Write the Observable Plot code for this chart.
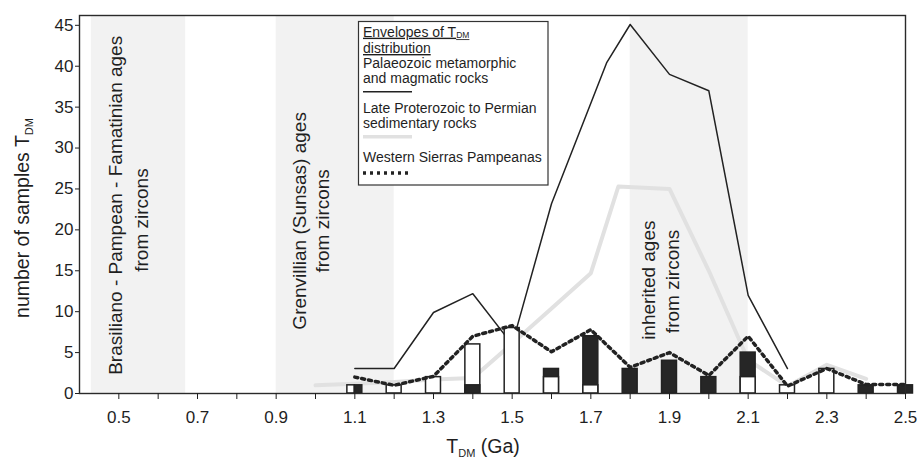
<!DOCTYPE html>
<html><head><meta charset="utf-8">
<script src="https://cdn.jsdelivr.net/npm/d3@7"></script>
<script src="https://cdn.jsdelivr.net/npm/@observablehq/plot@0.6"></script>
<style>
body{margin:0;background:#fff;}
#chart{position:relative;width:917px;height:459px;}
</style></head><body><div id="chart"></div>
<script>
// ---- data ----
const binAges     = [1.1,1.2,1.3,1.4,1.5,1.6,1.7,1.8,1.9,2.0,2.1,2.2,2.3,2.4,2.5];
const whiteCounts = [1,1,2,6,8,2,1,0,0,0,2,1,3,0,0];
const blackCounts = [1,0,0,1,0,3,7,3,4,2,5,0,0,1,1];

const palaeoAges   = [1.1,1.2,1.3,1.4,1.5,1.6,1.74,1.8,1.9,2.0,2.1,2.2];
const palaeoCounts = [3.05,3.05,9.9,12.2,6.0,23.2,40.4,45.1,39.0,37.0,12.0,3.05];

const sedAges   = [1.0,1.1,1.2,1.3,1.4,1.5,1.6,1.7,1.77,1.9,2.0,2.1,2.2,2.3,2.4];
const sedCounts = [1.0,1.2,1.4,1.7,1.9,6.1,10.4,14.7,25.3,25.0,15.0,4.1,0.9,3.5,1.8];

const wspAges   = [1.1,1.2,1.3,1.4,1.5,1.6,1.7,1.8,1.9,2.0,2.1,2.2,2.3,2.4,2.5];
const wspCounts = [2.0,1.0,2.1,7.0,8.3,5.1,7.8,3.2,5.0,2.2,7.0,0.9,3.05,1.1,1.1];

const bandStart = [0.43,0.9,1.8];
const bandEnd   = [0.67,1.2,2.1];
const bandLabelLines = ["Brasiliano - Pampean - Famatinian ages","from zircons",
                        "Grenvillian (Sunsas) ages","from zircons",
                        "inherited ages","from zircons"];

const yTicks = [0,5,10,15,20,25,30,35,40,45];
const xTicks = [0.5,0.6,0.7,0.8,0.9,1.0,1.1,1.2,1.3,1.4,1.5,1.6,1.7,1.8,1.9,2.0,2.1,2.2,2.3,2.4,2.5];
const xTickLabels = [0.5,0.7,0.9,1.1,1.3,1.5,1.7,1.9,2.1,2.3,2.5];

// ---- derived tables ----
const zip = (xs, ys) => xs.map((x,i)=>({x, y: ys[i]}));
const halfW = 0.019;
const BLACK = "#262626", WHITE = "#ffffff";
const bars = [];
binAges.forEach((a,i)=>{
  const w = whiteCounts[i], b = blackCounts[i];
  if (w > 0 && w === b) {
    bars.push({x1:a-halfW, x2:a, v:w, fill:WHITE});
    bars.push({x1:a, x2:a+halfW, v:b, fill:BLACK});
  } else {
    const order = w >= b ? [[w,WHITE],[b,BLACK]] : [[b,BLACK],[w,WHITE]];
    order.forEach(([v,f])=>{ if (v>0) bars.push({x1:a-halfW, x2:a+halfW, v, fill:f}); });
  }
});
const bands = bandStart.map((s,i)=>({x1:s, x2:bandEnd[i]}));
// annotation anchors (data units) for the rotated band texts
const labelAnchorX = [0.4915,0.5576,0.9594,1.018,1.8467,1.9077];
const labelAnchorY = [23.0,21.2,21.1,21.1,13.85,13.7];
const labels = bandLabelLines.map((t,i)=>({t, x:labelAnchorX[i], y:labelAnchorY[i]}));

const FONT = "'Liberation Sans', Arial, Helvetica, sans-serif";
const YTOP = 46.2;

const svgEl = Plot.plot({
  width: 917, height: 459,
  marginLeft: 79, marginRight: 12, marginTop: 15, marginBottom: 66,
  x: {domain: [0.4, 2.5]},
  y: {domain: [0, YTOP]},
  color: {type: "identity"},
  style: {fontFamily: FONT, color: "#1f1f1f", background: "#fff"},
  marks: [
    Plot.rect(bands, {x1:"x1", x2:"x2", y1:0, y2:YTOP, fill:"#f2f2f2"}),
    Plot.text(labels, {x:"x", y:"y", text:"t", rotate:-90, fontSize:19, textAnchor:"middle", lineAnchor:"middle", fill:"#1f1f1f"}),
    Plot.line(zip(sedAges, sedCounts), {x:"x", y:"y", stroke:"#e1e1e1", strokeWidth:4}),
    Plot.line(zip(palaeoAges, palaeoCounts), {x:"x", y:"y", stroke:"#222", strokeWidth:1.5}),
    Plot.rect(bars, {x1:"x1", x2:"x2", y1:0, y2:"v", fill:"fill", stroke:"#222", strokeWidth:1.5}),
    Plot.line(zip(wspAges, wspCounts), {x:"x", y:"y", stroke:"#222", strokeWidth:3.5, strokeDasharray:"3,4"}),
    Plot.frame({stroke:"#2a2a2a", strokeWidth:1.4}),
    Plot.axisY({ticks:yTicks, tickSize:4, tickPadding:2, fontSize:17, label:null}),
    Plot.axisX({ticks:xTicks, tickSize:6, tickPadding:11, fontSize:17, label:null,
      tickFormat: d => xTickLabels.includes(d) ? d.toFixed(1) : ""})
  ]
});
document.getElementById("chart").appendChild(svgEl);

const svg = d3.select(svgEl);
// axis titles with subscripts
const yt = svg.append("text").attr("transform","translate(29,218) rotate(-90)")
  .attr("text-anchor","middle").attr("font-family",FONT).attr("font-size",19.5).attr("fill","#1f1f1f");
yt.append("tspan").text("number of samples T");
yt.append("tspan").attr("font-size",11).attr("dy",4).text("DM");

const xt = svg.append("text").attr("x",483).attr("y",453)
  .attr("text-anchor","middle").attr("font-family",FONT).attr("font-size",19.5).attr("fill","#1f1f1f");
xt.append("tspan").text("T");
xt.append("tspan").attr("font-size",11).attr("dy",4).text("DM");
xt.append("tspan").attr("dy",-4).text(" (Ga)");

// legend box
const lg = svg.append("g").attr("font-family",FONT).attr("font-size",14).attr("fill","#1f1f1f").attr("text-anchor","start");
lg.append("rect").attr("x",358.5).attr("y",21.5).attr("width",189.5).attr("height",163.5)
  .attr("fill","#fff").attr("stroke","#333").attr("stroke-width",1.2);
const t1 = lg.append("text").attr("x",363).attr("y",36.7).attr("text-decoration","underline");
t1.append("tspan").text("Envelopes of T");
t1.append("tspan").attr("font-size",8.5).attr("dy",1.5).text("DM");
lg.append("text").attr("x",363).attr("y",53).attr("text-decoration","underline").text("distribution");
lg.append("text").attr("x",363).attr("y",68).text("Palaeozoic metamorphic");
lg.append("text").attr("x",363).attr("y",83).text("and magmatic rocks");
lg.append("line").attr("x1",363).attr("x2",412).attr("y1",91.7).attr("y2",91.7).attr("stroke","#222").attr("stroke-width",1.5);
lg.append("text").attr("x",363).attr("y",113).text("Late Proterozoic to Permian");
lg.append("text").attr("x",363).attr("y",128).text("sedimentary rocks");
lg.append("line").attr("x1",363).attr("x2",412).attr("y1",136.7).attr("y2",136.7).attr("stroke","#e1e1e1").attr("stroke-width",3.5);
lg.append("text").attr("x",363).attr("y",161.7).text("Western Sierras Pampeanas");
lg.append("line").attr("x1",363).attr("x2",412).attr("y1",173).attr("y2",173).attr("stroke","#222").attr("stroke-width",3.5).attr("stroke-dasharray","3,4");
</script></body></html>
